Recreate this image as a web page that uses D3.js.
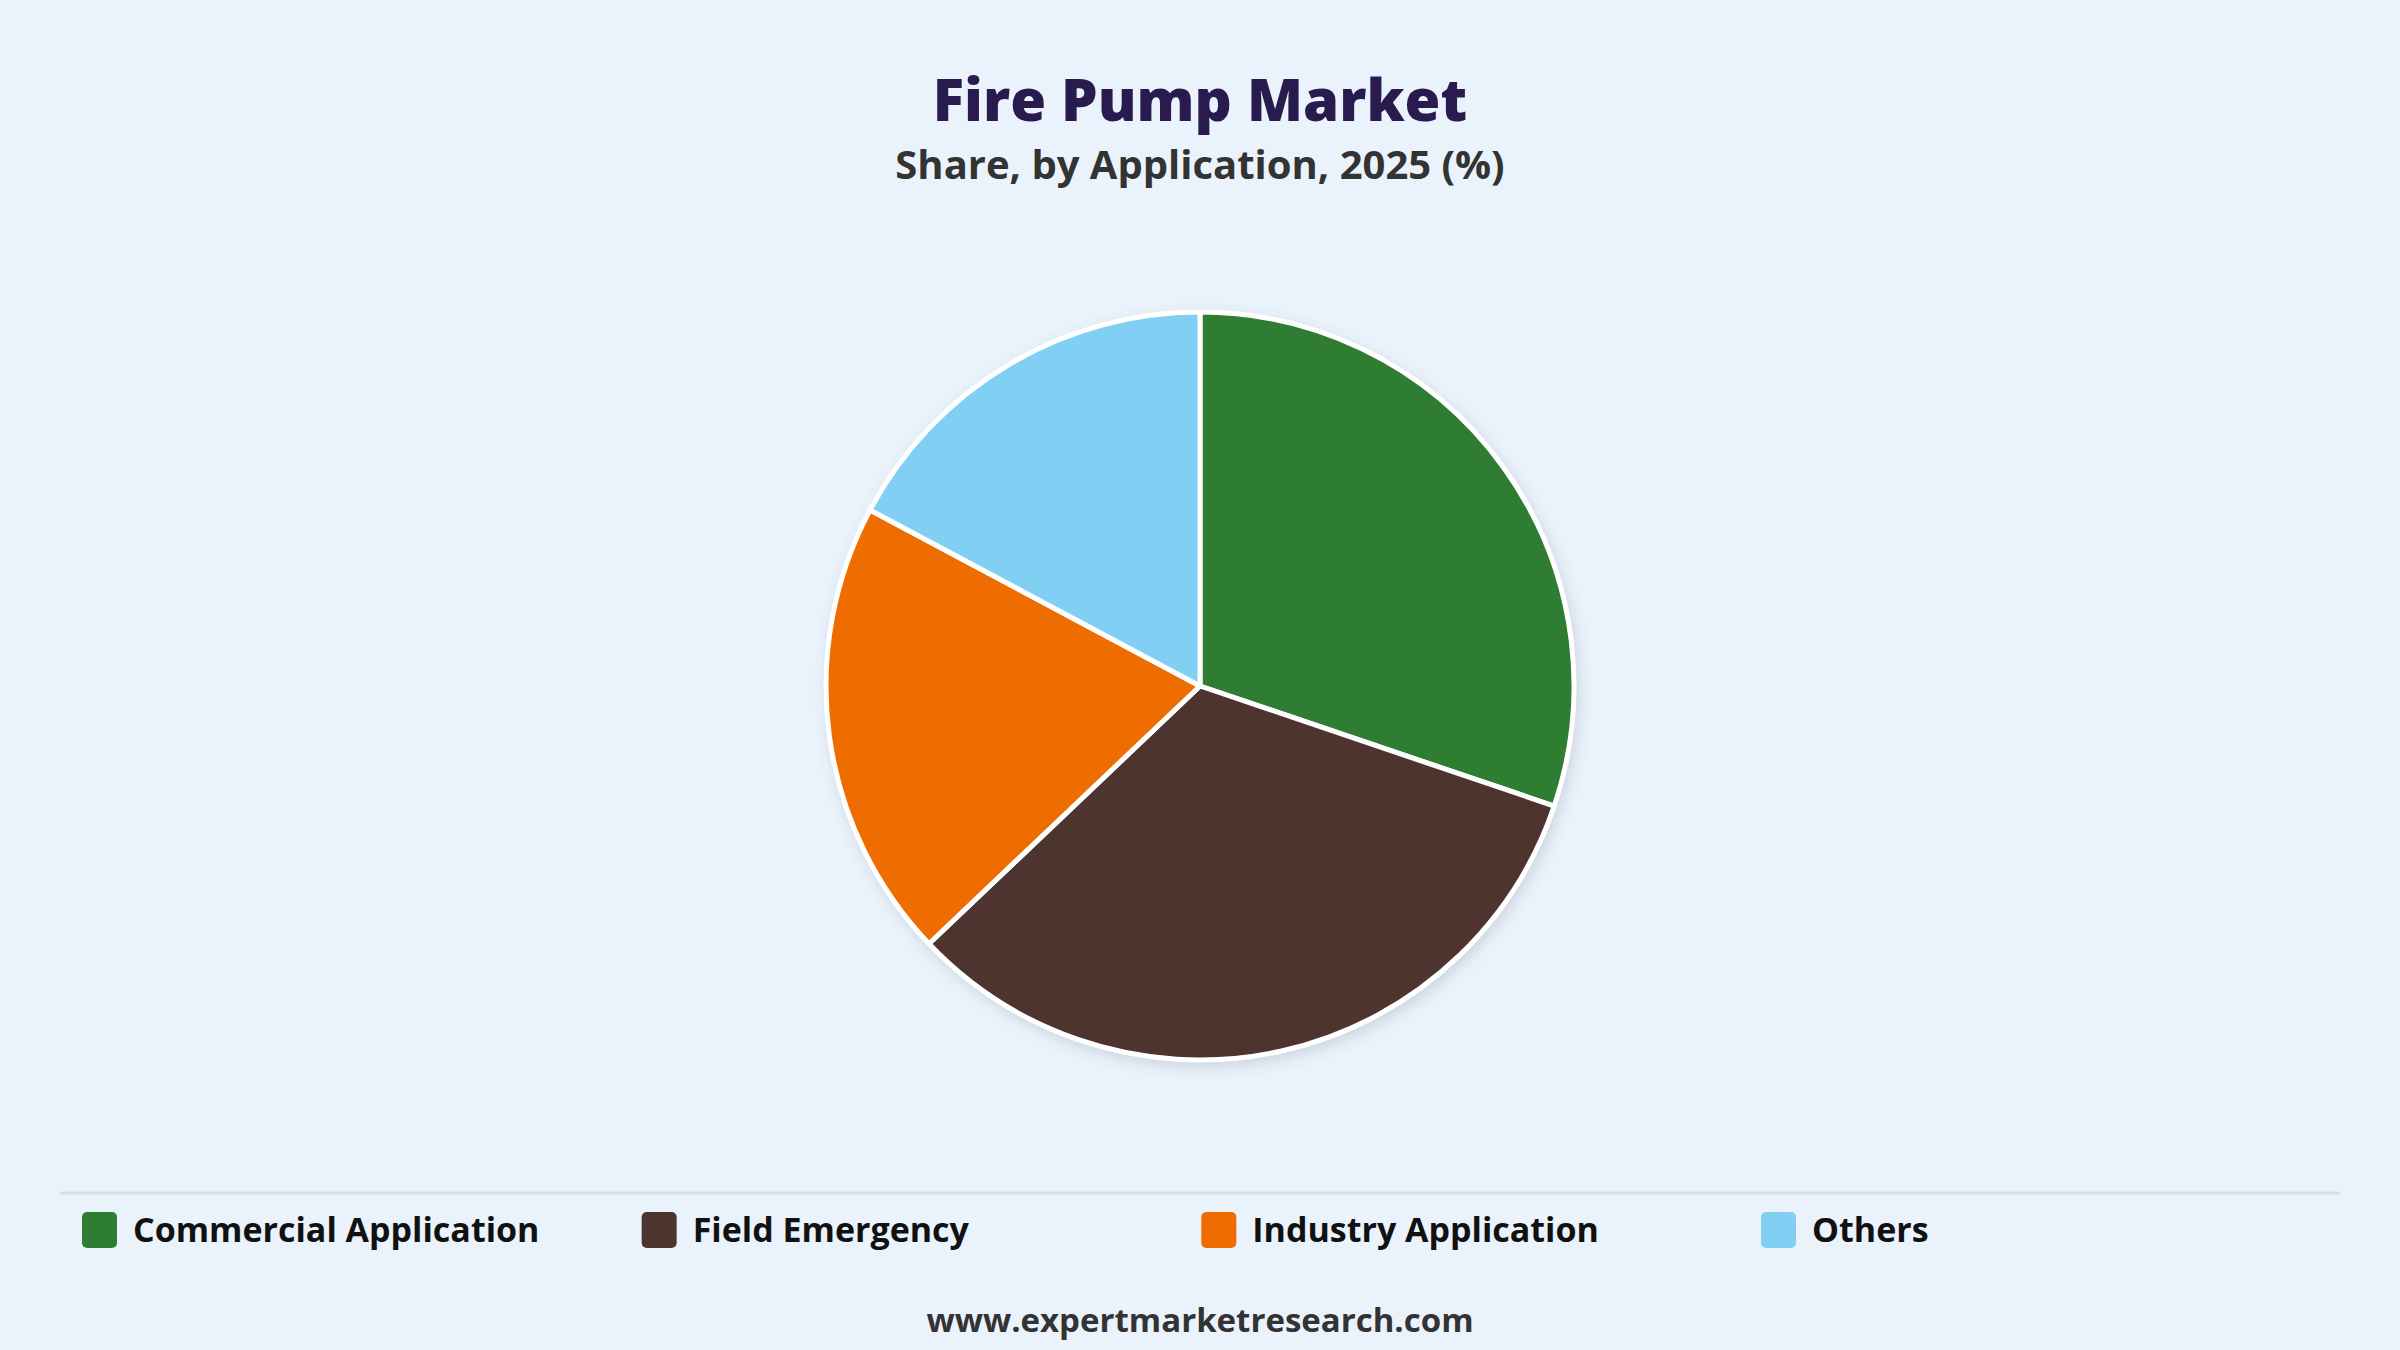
<!DOCTYPE html>
<html>
<head>
<meta charset="utf-8">
<script src="https://cdn.jsdelivr.net/npm/d3@7"></script>
<style>
  html, body { margin: 0; padding: 0; background: #eaf2fb; }
  svg { display: block; font-family: "Open Sans", "Noto Sans", sans-serif; }
</style>
</head>
<body>
<svg id="chart" width="2400" height="1350"></svg>
<script>
const categories = ['Commercial Application', 'Field Emergency', 'Industry Application', 'Others'];
const shares = [30.2, 32.7, 19.9, 17.2];
const colours = ['#2e7d32', '#4e342e', '#ef6c00', '#81cff2'];

const width = 2400;
const height = 1350;
const pieRadius = 374;
const centre = [1200, 686];

const svg = d3.select('#chart');

svg.append('rect')
    .attr('width', width)
    .attr('height', height)
    .attr('fill', '#eaf2fb');

// soft shadow under the pie
const defs = svg.append('defs');
const shadow = defs.append('filter')
    .attr('id', 'pieShadow')
    .attr('x', '-20%').attr('y', '-20%')
    .attr('width', '140%').attr('height', '140%');
shadow.append('feDropShadow')
    .attr('dx', 3)
    .attr('dy', 5)
    .attr('stdDeviation', 7)
    .attr('flood-color', '#5a6b80')
    .attr('flood-opacity', 0.22);

// titles
svg.append('text')
    .attr('x', width / 2)
    .attr('y', 121)
    .attr('text-anchor', 'middle')
    .attr('fill', '#2a1b4f')
    .style('font-size', '58px')
    .style('font-weight', 800)
    .text('Fire Pump Market');

svg.append('text')
    .attr('x', width / 2)
    .attr('y', 179)
    .attr('text-anchor', 'middle')
    .attr('fill', '#333333')
    .style('font-size', '40px')
    .style('font-weight', 700)
    .text('Share, by Application, 2025 (%)');

// pie
const colour = d3.scaleOrdinal().domain(categories).range(colours);
const createPie = d3.pie().sort(null).value(d => d.value);
const createArcPath = d3.arc().innerRadius(0).outerRadius(pieRadius);

const data = categories.map((name, i) => ({ name, value: shares[i] }));

const chartGroup = svg.append('g')
    .attr('transform', `translate(${centre[0]}, ${centre[1]})`);

chartGroup.append('circle')
    .attr('r', pieRadius + 2)
    .attr('fill', '#ffffff')
    .attr('filter', 'url(#pieShadow)');

chartGroup.selectAll('path.arc')
    .data(createPie(data))
    .enter()
    .append('path')
    .attr('class', 'arc')
    .attr('d', createArcPath)
    .attr('fill', d => colour(d.data.name))
    .attr('stroke', '#ffffff')
    .attr('stroke-width', 5)
    .attr('stroke-linejoin', 'round');

// legend
svg.append('line')
    .attr('x1', 60).attr('x2', 2340)
    .attr('y1', 1193).attr('y2', 1193)
    .attr('stroke', '#dcdfe5')
    .attr('stroke-width', 3);

const legendX = d3.scalePoint()
    .domain(categories)
    .range([82, 1761]);

const legendItems = svg.append('g')
    .selectAll('g.cell')
    .data(categories)
    .enter()
    .append('g')
    .attr('class', 'cell')
    .attr('transform', d => `translate(${legendX(d)}, 1212)`);

legendItems.append('rect')
    .attr('width', 35)
    .attr('height', 36)
    .attr('rx', 5)
    .attr('fill', d => colour(d));

legendItems.append('text')
    .attr('x', 51)
    .attr('y', 30)
    .attr('fill', '#111111')
    .style('font-size', '34px')
    .style('font-weight', 700)
    .text(d => d);

// footer
svg.append('text')
    .attr('x', width / 2)
    .attr('y', 1332)
    .attr('text-anchor', 'middle')
    .attr('fill', '#333333')
    .style('font-size', '33px')
    .style('font-weight', 700)
    .text('www.expertmarketresearch.com');
</script>
</body>
</html>
